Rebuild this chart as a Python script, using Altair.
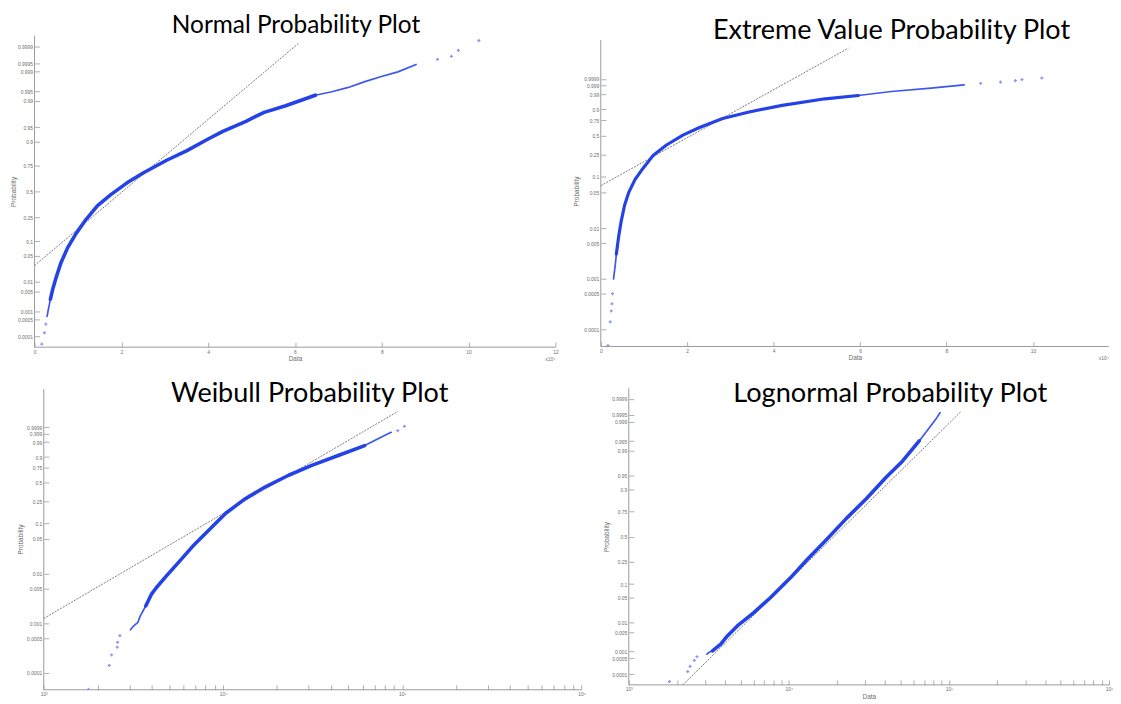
import math
from statistics import NormalDist
import pandas as pd
import altair as alt

# ---------------- tick labels ----------------
NORMAL_PROBS = [0.0001, 0.0005, 0.001, 0.005, 0.01, 0.05, 0.1, 0.25, 0.5,
                0.75, 0.9, 0.95, 0.99, 0.995, 0.999, 0.9995, 0.9999]
EV_PROBS = [0.0001, 0.0005, 0.001, 0.005, 0.01, 0.05, 0.1, 0.25, 0.5,
            0.75, 0.9, 0.99, 0.999, 0.9999]
LIN_TICKS_12 = [0, 20000, 40000, 60000, 80000, 100000, 120000]
LIN_TICKS_10 = [0, 20000, 40000, 60000, 80000, 100000]
LOG_TICKS = [1000, 2000, 3000, 4000, 5000, 6000, 7000, 8000, 9000,
             10000, 20000, 30000, 40000, 50000, 60000, 70000, 80000, 90000,
             100000, 200000, 300000, 400000, 500000, 600000, 700000, 800000, 900000,
             1000000]

# ---------------- Normal probability plot (data, normal score) ----------------
TL_DENSE_X = [3650, 4190, 4950, 6090, 7610, 9510, 11800, 14460, 17500, 21310, 25110,
              30440, 35010, 39570, 43380, 48710, 52890, 57840, 64690]
TL_DENSE_Y = [-2.77, -2.51, -2.22, -1.83, -1.45, -1.09, -0.73, -0.37, -0.09, 0.22, 0.48,
              0.80, 1.04, 1.32, 1.54, 1.80, 2.03, 2.20, 2.47]
TL_LOW_X = [2890, 3200, 3420, 3650]
TL_LOW_Y = [-3.21, -3.02, -2.90, -2.77]
TL_HIGH_X = [64690, 68490, 72300, 76100, 79910, 83710, 87900]
TL_HIGH_Y = [2.47, 2.56, 2.67, 2.82, 2.95, 3.07, 3.26]
TL_SPARSE_X = [1670, 2280, 2590, 92850, 96040, 97640, 102360]
TL_SPARSE_Y = [-3.92, -3.63, -3.41, 3.39, 3.47, 3.62, 3.87]
TL_REF_X = [0, 60900]
TL_REF_Y = [-1.905, 3.81]

# ---------------- Extreme value probability plot (data, log(-log(1-p))) ----------------
TR_DENSE_X = [3600, 4150, 4700, 5500, 6500, 7900, 9700, 12100, 15200, 19000, 22850,
              28200, 34330, 41980, 51930, 59590]
TR_DENSE_Y = [-5.78, -4.95, -4.30, -3.55, -2.95, -2.38, -1.88, -1.28, -0.80, -0.35, 0.0,
              0.41, 0.71, 1.01, 1.31, 1.46]
TR_LOW_X = [2940, 3330, 3600]
TR_LOW_Y = [-6.92, -6.31, -5.78]
TR_HIGH_X = [59590, 67240, 76430, 84080]
TR_HIGH_Y = [1.46, 1.645, 1.80, 1.95]
TR_SPARSE_X = [1650, 2180, 2410, 2570, 2710, 87910, 92500, 95940, 97470, 102060]
TR_SPARSE_Y = [-9.96, -8.88, -8.38, -8.05, -7.59, 2.02, 2.07, 2.14, 2.19, 2.26]
TR_REF_X = [0, 57290]
TR_REF_Y = [-2.657, 3.62]

# ---------------- Weibull probability plot (data, log(-log(1-p))) ----------------
BL_DENSE_X = [3705, 3981, 4244, 4821, 5713, 6771, 8375, 10359, 13366, 17249, 23228,
              31274, 43921, 61717]
BL_DENSE_Y = [-6.10, -5.56, -5.25, -4.71, -4.02, -3.32, -2.55, -1.78, -1.09, -0.55, -0.01,
              0.45, 0.91, 1.37]
BL_LOW_X = [3045, 3177, 3344, 3457, 3705]
BL_LOW_Y = [-7.21, -7.02, -6.87, -6.56, -6.10]
BL_HIGH_X = [61717, 79625, 86700]
BL_HIGH_Y = [1.37, 1.84, 1.99]
BL_SPARSE_X = [1776, 2321, 2391, 2570, 2581, 2659, 94400, 102800]
BL_SPARSE_Y = [-9.98, -8.87, -8.38, -8.02, -7.79, -7.48, 2.07, 2.27]
BL_REF_X = [1000, 94400]
BL_REF_Y = [-6.68, 2.96]

# ---------------- Lognormal probability plot (data, normal score) ----------------
BR_DENSE_X = [3335, 3755, 4130, 4764, 6041, 7662, 10195, 12936, 17213, 22891, 30461,
              40532, 51420, 65230]
BR_DENSE_Y = [-3.08, -2.90, -2.68, -2.41, -2.05, -1.65, -1.12, -0.63, -0.08, 0.49, 1.02,
              1.60, 2.04, 2.58]
BR_LOW_X = [3076, 3179, 3335]
BR_LOW_Y = [-3.17, -3.12, -3.08]
BR_HIGH_X = [65230, 75230, 82740, 88030]
BR_HIGH_Y = [2.58, 2.93, 3.16, 3.34]
BR_SPARSE_X = [1796, 2334, 2413, 2567, 2667]
BR_SPARSE_Y = [-3.91, -3.64, -3.50, -3.34, -3.24]
BR_REF_X = [2173, 118300]
BR_REF_Y = [-4.0, 3.36]

# ---------------- styling ----------------
FONT = "Liberation Sans"
TITLE_FONT = "Lato"
AX_COL = "#9a9a9a"
LAB_COL = "#6e6e6e"
BLUE = "#2442e6"
BLUE_THIN = "#3d57ee"
BLUE_LIGHT = "#7f8af2"

ND = NormalDist()


def z_of(p):
    return ND.inv_cdf(p)


def ev_of(p):
    return math.log(-math.log(1.0 - p))


NORMAL_LABEL = "format(cumulativeNormal(datum.value), '.4~r')"
EV_LABEL = "format(1 - exp(-exp(datum.value)), '.4~r')"
LIN_LABEL = "format(datum.value / 10000, 'd')"
LOG_LABEL = ("datum.value == 1000 ? '10\u00b3' : datum.value == 10000 ? '10\u2074' : "
             "datum.value == 100000 ? '10\u2075' : datum.value == 1000000 ? '10\u2076' : ''")

AXIS_COMMON = dict(tickSize=5, tickColor=AX_COL, tickWidth=0.8, domain=False,
                   grid=False, labelFont=FONT, labelFontSize=5, labelColor=LAB_COL,
                   labelPadding=2, labelOverlap=False, titleFont=FONT, titleFontSize=6.5,
                   titleFontWeight="normal", titleColor=LAB_COL)


def build(p):
    if p["log"]:
        xs = alt.Scale(type="log", domain=p["xdom"], nice=False)
    else:
        xs = alt.Scale(type="linear", domain=p["xdom"], nice=False, zero=False)
    ys = alt.Scale(domain=p["ydom"], nice=False, zero=False)

    xax = alt.Axis(values=p["xticks"], labelExpr=p["xlab"], title=p["xtitle"],
                   labelFlush=False, titlePadding=1.5, offset=-5, **AXIS_COMMON)
    yax = alt.Axis(values=p["yticks"], labelExpr=p["ylab"], title="Probability",
                   minExtent=18, maxExtent=18, titlePadding=p["ytp"], offset=p["yoff"],
                   **AXIS_COMMON)

    dense_df = pd.DataFrame({"x": p["dense_x"], "y": p["dense_y"]})
    thin_df = pd.concat([
        pd.DataFrame({"x": p["low_x"], "y": p["low_y"], "seg": "low"}),
        pd.DataFrame({"x": p["high_x"], "y": p["high_y"], "seg": "high"}),
    ], ignore_index=True)
    sparse_df = pd.DataFrame({"x": p["sparse_x"], "y": p["sparse_y"]})
    ref_df = pd.DataFrame({"x": p["ref_x"], "y": p["ref_y"]})
    one = pd.DataFrame({"k": [0]})

    X = alt.X("x:Q", scale=xs, axis=xax)
    Y = alt.Y("y:Q", scale=ys, axis=yax)
    ax_x0 = p["xaxis0"]
    ax_y1 = p["yaxis1"]

    left_rule = alt.Chart(one).mark_rule(color=AX_COL, strokeWidth=1).encode(
        x=alt.XDatum(ax_x0, scale=xs, axis=xax),
        y=alt.YDatum(p["ydom"][0], scale=ys, axis=yax),
        y2=alt.Y2Datum(ax_y1))
    bottom_rule = alt.Chart(one).mark_rule(color=AX_COL, strokeWidth=1).encode(
        x=alt.XDatum(ax_x0, scale=xs, axis=xax),
        x2=alt.X2Datum(p["xdom"][1]),
        y=alt.YDatum(p["ydom"][0], scale=ys, axis=yax))
    ref = alt.Chart(ref_df).mark_line(color="#5a5a5a", strokeWidth=0.8,
                                      strokeDash=[2, 1.2], clip=True).encode(x=X, y=Y)
    thin = alt.Chart(thin_df).mark_line(color=BLUE_THIN, strokeWidth=1.7, clip=True,
                                        strokeCap="round").encode(x=X, y=Y, detail="seg:N")
    dense = alt.Chart(dense_df).mark_line(color=BLUE, strokeWidth=p["w"], clip=True,
                                          strokeCap="round", strokeJoin="round").encode(x=X, y=Y)
    pts = alt.Chart(sparse_df).mark_point(shape="cross", filled=True, size=10,
                                          color=BLUE_LIGHT, opacity=0.9, clip=True).encode(x=X, y=Y)
    layers = [left_rule, bottom_rule, ref, thin, dense, pts]
    if not p["log"]:
        exp_text = alt.Chart(one).mark_text(text="x10\u2074", align="right", baseline="middle",
                                            dy=12, font=FONT, fontSize=5, color=LAB_COL).encode(
            x=alt.XDatum(p["xdom"][1], scale=xs, axis=xax),
            y=alt.YDatum(p["ydom"][0], scale=ys, axis=yax))
        layers.append(exp_text)

    title = alt.TitleParams(text=p["title"], font=TITLE_FONT, fontSize=p["tfs"],
                            fontWeight="normal", color="#000000", anchor="middle",
                            frame="group", dx=p["tdx"], offset=p["toff"], baseline="top")
    return alt.layer(*layers).properties(width=p["width"], height=p["height"], title=title)


TL = build(dict(title="Normal Probability Plot", tfs=24.6, tdx=1, toff=-3.8, log=False,
                xdom=[0, 120000], xaxis0=0, xticks=LIN_TICKS_12, xlab=LIN_LABEL, xtitle="Data",
                ydom=[-4, 4], yaxis1=4, yticks=[z_of(v) for v in NORMAL_PROBS],
                ylab=NORMAL_LABEL, yoff=-5, ytp=5.25, width=525, height=314, w=3.6,
                dense_x=TL_DENSE_X, dense_y=TL_DENSE_Y, low_x=TL_LOW_X, low_y=TL_LOW_Y,
                high_x=TL_HIGH_X, high_y=TL_HIGH_Y, sparse_x=TL_SPARSE_X, sparse_y=TL_SPARSE_Y,
                ref_x=TL_REF_X, ref_y=TL_REF_Y))

TR = build(dict(title="Extreme Value Probability Plot", tfs=27.2, tdx=37, toff=-9.2, log=False,
                xdom=[0, 117560], xaxis0=0, xticks=LIN_TICKS_10, xlab=LIN_LABEL, xtitle="Data",
                ydom=[-10, 4.195], yaxis1=4, yticks=[ev_of(v) for v in EV_PROBS],
                ylab=EV_LABEL, yoff=-5, ytp=8.45, width=512, height=313.3, w=3.2,
                dense_x=TR_DENSE_X, dense_y=TR_DENSE_Y, low_x=TR_LOW_X, low_y=TR_LOW_Y,
                high_x=TR_HIGH_X, high_y=TR_HIGH_Y, sparse_x=TR_SPARSE_X, sparse_y=TR_SPARSE_Y,
                ref_x=TR_REF_X, ref_y=TR_REF_Y))

BL = build(dict(title="Weibull Probability Plot", tfs=27.2, tdx=1.65, toff=-20.1, log=True,
                xdom=[888.2, 1000000], xaxis0=1000, xticks=LOG_TICKS, xlab=LOG_LABEL, xtitle=None,
                ydom=[-10, 4.0416], yaxis1=4, yticks=[ev_of(v) for v in EV_PROBS],
                ylab=EV_LABEL, yoff=-14.3, ytp=7.55, width=551.3, height=303.9, w=3.6,
                dense_x=BL_DENSE_X, dense_y=BL_DENSE_Y, low_x=BL_LOW_X, low_y=BL_LOW_Y,
                high_x=BL_HIGH_X, high_y=BL_HIGH_Y, sparse_x=BL_SPARSE_X, sparse_y=BL_SPARSE_Y,
                ref_x=BL_REF_X, ref_y=BL_REF_Y))

BR = build(dict(title="Lognormal Probability Plot", tfs=27.4, tdx=21.5, toff=-19.3, log=True,
                xdom=[1000, 1000000], xaxis0=1000, xticks=LOG_TICKS, xlab=LOG_LABEL, xtitle="Data",
                ydom=[-4, 4], yaxis1=4, yticks=[z_of(v) for v in NORMAL_PROBS],
                ylab=NORMAL_LABEL, yoff=-5, ytp=6.05, width=484, height=299, w=3.6,
                dense_x=BR_DENSE_X, dense_y=BR_DENSE_Y, low_x=BR_LOW_X, low_y=BR_LOW_Y,
                high_x=BR_HIGH_X, high_y=BR_HIGH_Y, sparse_x=BR_SPARSE_X, sparse_y=BR_SPARSE_Y,
                ref_x=BR_REF_X, ref_y=BR_REF_Y))

row1 = alt.hconcat(TL, TR, spacing=14.75)
row2 = alt.hconcat(BL, BR, spacing=16.95)
chart = alt.vconcat(row1, row2, spacing=17.4).properties(
    padding={"left": 1.75, "top": 2.1, "right": 0, "bottom": 0}
).configure_view(strokeWidth=0)

chart.save("out.html", embed_options={"renderer": "svg", "actions": False})
